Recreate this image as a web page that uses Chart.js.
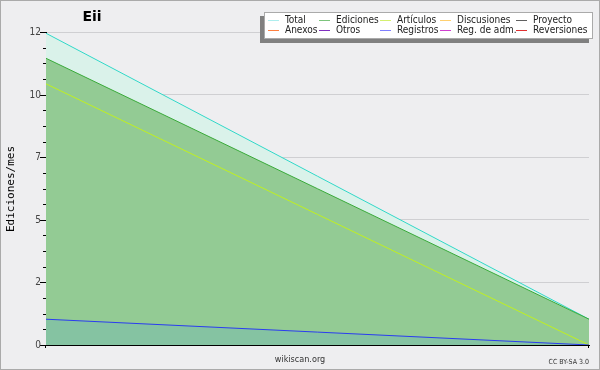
<!DOCTYPE html>
<html>
<head>
<meta charset="utf-8">
<script src="https://cdn.jsdelivr.net/npm/chart.js@4/dist/chart.umd.min.js"></script>
<style>
  body { margin: 0; background: #fff; }
  #wrap { width: 598px; height: 368px; border: 1px solid #aaa; background: #eeeef0; }
</style>
</head>
<body>
<div id="wrap"><canvas id="chart" width="598" height="368"></canvas></div>
<script>
// two monthly points, no visible x labels
var months = ['', ''];
var total = [12.45, 1.03];
var ediciones = [11.45, 1.03];
var articulos = [10.43, 0];
var registros = [1.03, 0];

var yTicks = [0, 2.5, 5, 7.5, 10, 12.5];
var yTickLabels = ['0', '2', '5', '7', '10', '12'];

var legendNames = ['Total', 'Ediciones', 'Artículos', 'Discusiones', 'Proyecto',
                   'Anexos', 'Otros', 'Registros', 'Reg. de adm.', 'Reversiones'];
var legendColors = ['#aeeeee', '#7cc47c', '#d4f070', '#ffd070', '#606060',
                    '#ff8040', '#8030c0', '#8080ff', '#d040d0', '#e03030'];

var txtFont = '"DejaVu Sans Condensed", "DejaVu Sans", sans-serif';

var decor = {
  id: 'decor',
  afterDraw: function(chart) {
    var c = chart.ctx;
    var y = chart.scales.y;
    var a = chart.chartArea;
    c.save();
    c.strokeStyle = '#000';
    c.lineWidth = 1;
    // minor ticks
    for (var v = 0; v <= 12.5; v += 0.625) {
      var py = Math.round(y.getPixelForValue(v)) + 0.5;
      c.beginPath(); c.moveTo(a.left - 3, py); c.lineTo(a.left, py); c.stroke();
    }
    // major ticks + labels
    c.fillStyle = '#444';
    c.font = '10px ' + txtFont;
    c.textAlign = 'right';
    c.textBaseline = 'middle';
    yTicks.forEach(function(t, i) {
      var py = Math.round(y.getPixelForValue(t)) + 0.5;
      c.beginPath(); c.moveTo(a.left - 6, py); c.lineTo(a.left, py); c.stroke();
      c.fillText(yTickLabels[i], a.left - 5, py);
    });
    // little ticks under the x axis ends
    [a.left, a.right].forEach(function(px) {
      px = Math.round(px) - 0.5;
      c.beginPath(); c.moveTo(px, a.bottom); c.lineTo(px, a.bottom + 3); c.stroke();
    });

    // title
    c.fillStyle = '#000';
    c.font = 'bold 14px "DejaVu Sans", sans-serif';
    c.textAlign = 'center';
    c.fillText('Eii', 91, 16);

    // y axis title
    c.save();
    c.translate(10, 188);
    c.rotate(-Math.PI / 2);
    c.font = '11px "DejaVu Sans Mono", monospace';
    c.fillText('Ediciones/mes', 0, 0);
    c.restore();

    // footer
    c.fillStyle = '#333';
    c.font = '9px ' + txtFont;
    c.fillText('wikiscan.org', 299, 359);
    c.textAlign = 'right';
    c.font = '7px ' + txtFont;
    c.fillText('CC BY-SA 3.0', 588, 361);

    // legend box with shadow
    c.fillStyle = '#808080';
    c.fillRect(259, 15, 329, 27);
    c.fillStyle = '#fff';
    c.fillRect(263, 11, 329, 27);
    c.strokeStyle = '#aaa';
    c.strokeRect(263.5, 11.5, 328, 26);
    var colX = [267, 318, 379, 439, 515];
    var rowY = [19, 29];
    c.font = '10px ' + txtFont;
    c.textAlign = 'left';
    c.fillStyle = '#222';
    legendNames.forEach(function(n, i) {
      var lx = colX[i % 5], ly = rowY[Math.floor(i / 5)];
      c.strokeStyle = legendColors[i];
      c.beginPath(); c.moveTo(lx, ly + 0.5); c.lineTo(lx + 11, ly + 0.5); c.stroke();
      c.fillText(n, lx + 17, ly);
    });
    c.restore();
  }
};

new Chart(document.getElementById('chart'), {
  type: 'line',
  data: {
    labels: months,
    datasets: [
      { label: 'Total', data: total, borderColor: '#30d8c8', backgroundColor: '#daf2ea',
        fill: 'origin', borderWidth: 1, pointRadius: 0, tension: 0, order: 4 },
      { label: 'Ediciones', data: ediciones, borderColor: '#3aaa3a', backgroundColor: '#93cb94',
        fill: 'origin', borderWidth: 1, pointRadius: 0, tension: 0, order: 3 },
      { label: 'Artículos', data: articulos, borderColor: '#c0f020',
        fill: false, borderWidth: 1, pointRadius: 0, tension: 0, order: 2 },
      { label: 'Registros', data: registros, borderColor: '#2a3cf0', backgroundColor: 'rgba(82,163,220,0.2)',
        fill: 'origin', borderWidth: 1, pointRadius: 0, tension: 0, order: 1 }
    ]
  },
  options: {
    responsive: false,
    animation: false,
    layout: { padding: { left: 45, top: 31, right: 10, bottom: 24 } },
    plugins: { legend: { display: false }, tooltip: { enabled: false } },
    scales: {
      x: {
        offset: false,
        ticks: { display: false },
        grid: { display: false, drawTicks: false },
        border: { color: '#000' }
      },
      y: {
        min: 0, max: 12.5,
        ticks: { display: false, stepSize: 2.5 },
        grid: { color: '#cfcfd2', drawTicks: false },
        border: { color: '#000' }
      }
    }
  },
  plugins: [decor]
});
</script>
</body>
</html>
